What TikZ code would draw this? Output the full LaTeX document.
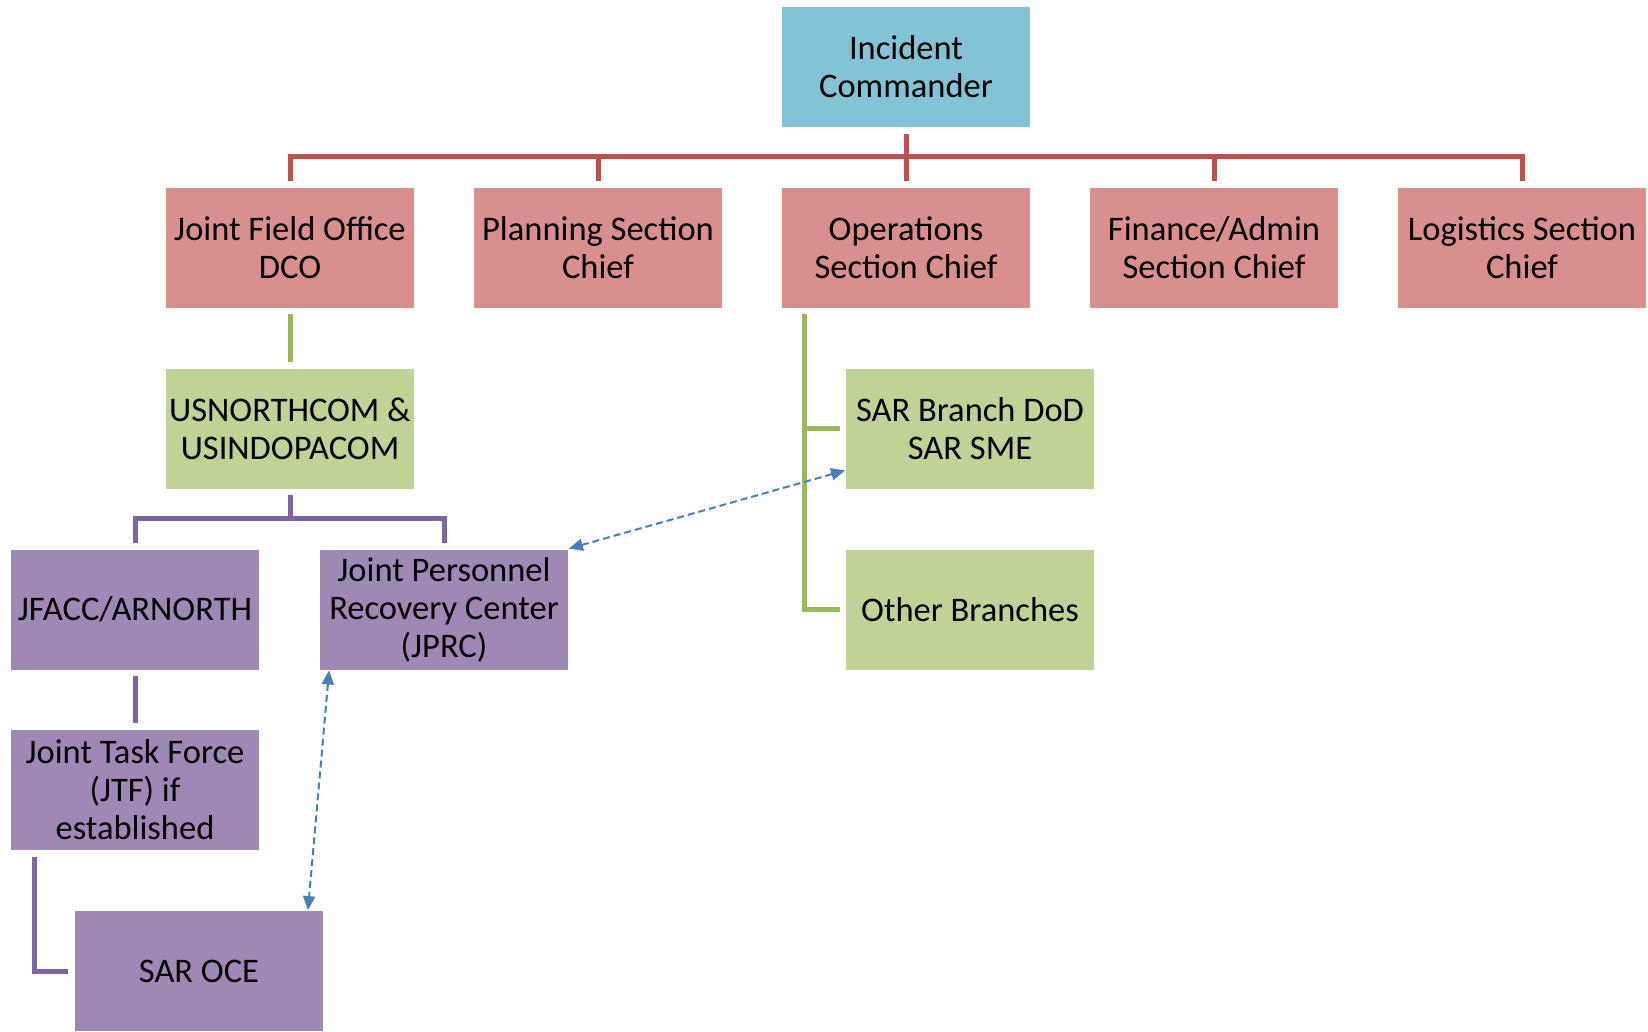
\documentclass[tikz,border=0pt]{standalone}
\usepackage{fontspec}
\setmainfont{Carlito}
\usetikzlibrary{arrows.meta}

\definecolor{icfill}{RGB}{132,195,214}
\definecolor{redfill}{RGB}{216,143,141}
\definecolor{redline}{RGB}{192,80,77}
\definecolor{greenfill}{RGB}{192,211,150}
\definecolor{greenline}{RGB}{155,187,89}
\definecolor{purplefill}{RGB}{158,136,182}
\definecolor{purpleline}{RGB}{128,100,162}
\definecolor{linkblue}{RGB}{74,126,187}

\begin{document}
\begin{tikzpicture}[x=1pt,y=-1pt,
  box/.style={rectangle, draw=white, line width=0.8pt,
    minimum width=249pt, minimum height=121pt, inner sep=0pt,
    align=center, font=\fontsize{34.5}{38}\selectfont},
  icbox/.style={box, fill=icfill},
  secbox/.style={box, fill=redfill},
  grnbox/.style={box, fill=greenfill},
  purbox/.style={box, fill=purplefill},
  conn/.style={line width=5pt, line join=miter},
  redconn/.style={conn, draw=redline},
  grnconn/.style={conn, draw=greenline},
  purconn/.style={conn, draw=purpleline},
  link/.style={draw=linkblue, line width=2pt, dash pattern=on 7pt off 4pt,
    {Triangle[length=14pt,width=12pt]}-{Triangle[length=14pt,width=12pt]}}
]
\useasboundingbox (0,0) rectangle (1648,1032);

% top level
\node[icbox] (ic) at (906,67) {Incident\\Commander};

% section chiefs
\node[secbox] (jfo)  at (290,247.5)  {Joint Field Office\\DCO};
\node[secbox] (plan) at (598,247.5)  {Planning Section\\Chief};
\node[secbox] (ops)  at (906,247.5)  {Operations\\Section Chief};
\node[secbox] (fin)  at (1214,247.5) {Finance/Admin\\Section Chief};
\node[secbox] (log)  at (1522,247.5) {Logistics Section\\Chief};

% green level
\node[grnbox] (usn)   at (290,428.5) {USNORTHCOM \&\\USINDOPACOM};
\node[grnbox] (sarb)  at (970,428.5) {SAR Branch DoD\\SAR SME};
\node[grnbox] (other) at (970,609.5) {Other Branches};

% purple level
\node[purbox] (jfacc) at (135,609.5) {JFACC/ARNORTH};
\node[purbox] (jprc)  at (444,609.5) {Joint Personnel\\Recovery Center\\(JPRC)};
\node[purbox] (jtf)   at (135,790)   {Joint Task Force\\(JTF) if\\established};
\node[purbox] (oce)   at (199,971)   {SAR OCE};

% bus and trunk points
\coordinate (rbus) at (906,157);
\coordinate (pbus) at (290,518);
\coordinate (gtrunk) at (804,308);
\coordinate (jtftrunk) at (34,851);

% red hierarchy
\draw[redconn, shorten <=6pt, shorten >=6pt] (ic.south) -- (ops.north);
\draw[redconn, shorten <=6pt, shorten >=6pt] (jfo.north) |- (rbus) -| (log.north);
\draw[redconn, shorten >=6pt] (rbus -| plan.north) -- (plan.north);
\draw[redconn, shorten >=6pt] (rbus -| fin.north) -- (fin.north);

% green hierarchy
\draw[grnconn, shorten <=6pt, shorten >=6pt] (jfo.south) -- (usn.north);
\draw[grnconn, shorten <=6pt, shorten >=5pt] (gtrunk) |- (other.west);
\draw[grnconn, shorten >=5pt] (gtrunk |- sarb.west) -- (sarb.west);

% purple hierarchy
\draw[purconn, shorten <=6pt] (usn.south) -- (pbus);
\draw[purconn, shorten <=6pt, shorten >=6pt] (jfacc.north) |- (pbus) -| (jprc.north);
\draw[purconn, shorten <=6pt, shorten >=6pt] (jfacc.south) -- (jtf.north);
\draw[purconn, shorten <=6pt, shorten >=6pt] (jtftrunk) |- (oce.west);

% coordination links
\draw[link] (jprc.north east) -- ([yshift=19pt]sarb.south west);
\draw[link] ([xshift=10pt]jprc.south west) -- ([xshift=-16pt]oce.north east);
\end{tikzpicture}
\end{document}
